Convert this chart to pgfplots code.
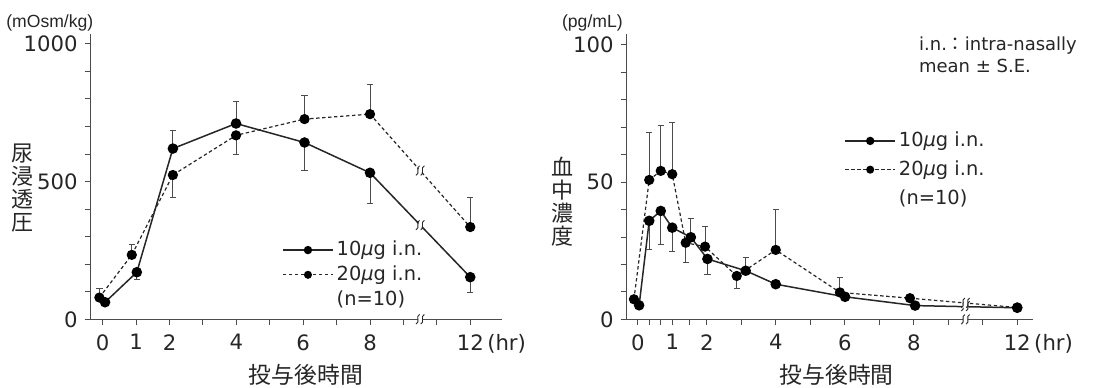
\documentclass[border=0pt]{standalone}
\usepackage{pgfplots}
\pgfplotsset{compat=1.18}
\usepackage{pgfplotstable}
\usepackage{fontspec}
\setmainfont{DejaVu Sans}
\newfontfamily\jp{Noto Sans CJK JP}
\newfontfamily\lib{Liberation Sans}
\newcommand\mug{{\itshape μ}g}

\pgfplotstableread{
x y ep em
0.07 62 0 0
1.02 171 0 28
2.10 620 64 0
3.99 711 79 0
6.04 642 0 100
8.00 532 0 112
11.0 153 0 55
}\tenL
\pgfplotstableread{
x y ep em
-0.10 79 34 0
0.87 234 39 0
2.10 524 0 81
3.99 668 0 69
6.04 727 85 0
8.00 745 107 0
11.0 335 106 0
}\twentyL
\pgfplotstableread{
x y ep em
0.04 5.1 0 0
0.333 35.9 0 10.4
0.667 39.5 0 12.2
1.0 33.4 0 8.5
1.54 29.9 6.7 0
2.02 22.0 0 5.8
3.13 17.7 4.8 0
4.0 12.8 0 0
6.01 8.2 0 0
8.04 5.0 0 0
11.0 4.2 0 0
}\tenR
\pgfplotstableread{
x y ep em
-0.11 7.3 0 0
0.333 50.8 17.2 0
0.667 54.1 16.4 0
1.0 52.9 18.8 0
1.39 27.9 0 7.1
1.95 26.5 7.3 0
2.87 15.8 0 4.5
4.0 25.3 14.8 0
5.86 9.8 5.4 0
7.89 7.7 0 0
11.0 4.3 0 0
}\twentyR

\colorlet{ink}{black!85}
\newcommand\brk[2]{%
  \begin{scope}[shift={(axis cs:#1,#2)}]
    \fill[white] (-1.9pt,-2.4pt) -- (0.2pt,-2.4pt) -- (1.9pt,2.4pt) -- (-0.2pt,2.4pt) -- cycle;
    \draw[ink, line width=0.45pt] (-2.1pt,-2.4pt) .. controls (0.2pt,-1.6pt) and (-2.5pt,1.6pt) .. (-0.3pt,2.4pt);
    \draw[ink, line width=0.45pt] (0.3pt,-2.4pt) .. controls (2.5pt,-1.6pt) and (-0.2pt,1.6pt) .. (2.1pt,2.4pt);
  \end{scope}}

\pgfplotsset{
  myax/.style={
    scale only axis, height=142.65pt,
    axis lines=left, axis line style={-, black!70, line width=0.6pt},
    tick align=outside, major tick length=3pt,
    tick style={black!70, line width=0.5pt},
    clip=false, ymin=0,
    tick label style={font=\fontsize{10.6}{12}\selectfont, text=ink},
    xticklabel style={yshift=-1pt},
    legend cell align=left,
    legend style={draw=none, fill=none, font=\fontsize{9.7}{11.5}\selectfont, text=ink,
      inner sep=0pt, nodes={inner sep=1.5pt}},
    legend image code/.code={\draw[##1, mark size=1.7pt, mark repeat=2, mark phase=2]
      plot coordinates {(0pt,0pt) (12.5pt,0pt) (25pt,0pt)};},
  },
  s10/.style={ink, line width=0.75pt, mark=*, mark size=2.25pt, mark options={solid, fill=black, draw=black},
    error bars/.cd, y dir=both, y explicit, error bar style={solid, line width=0.45pt, black!70},
    error mark=-, error mark options={rotate=90, mark size=1.6pt, line width=0.45pt, black!70}},
  s20/.style={ink, line width=0.6pt, dash pattern=on 1.7pt off 1.3pt, mark=*, mark size=2.25pt,
    mark options={solid, fill=black, draw=black},
    error bars/.cd, y dir=both, y explicit, error bar style={solid, line width=0.45pt, black!70},
    error mark=-, error mark options={rotate=90, mark size=1.6pt, line width=0.45pt, black!70}},
}

\begin{document}
\begin{tikzpicture}
\path[use as bounding box] (-45.35pt,-33.85pt) rectangle (503.15pt,159.65pt);

% ---------------- left panel ----------------
\begin{axis}[myax, at={(0pt,0pt)}, anchor=south west,
  width=205.65pt, xmin=-0.36, xmax=11.95, ymax=1036,
  xtick={0,1,2,3,4,5,6,7,8,9,10,11},
  xticklabels={0,1,2,,4,,6,,8,,,12\rlap{\,(hr)}},
  ytick={0,100,...,1000},
  yticklabels={0,,,,,500,,,,,1000},
  legend style={at={(axis cs:5.36,296)}, anchor=north west, row sep=0.5pt},
]
\addplot[s10] table[x=x, y=y, y error plus=ep, y error minus=em] {\tenL};
\addlegendentry{10\mug\ i.n.}
\addplot[s20] table[x=x, y=y, y error plus=ep, y error minus=em] {\twentyL};
\addlegendentry{20\mug\ i.n.}
\addlegendimage{empty legend}
\addlegendentry{(n=10)}
\brk{9.5}{0}
\brk{9.5}{342}
\brk{9.5}{540}
\end{axis}

% ---------------- right panel ----------------
\begin{axis}[myax, at={(268pt,0pt)}, anchor=south west,
  width=203.2pt, xmin=-0.32, xmax=11.46, ymax=104,
  xtick={0,0.3333,0.6667,1,1.5,2,3,4,5,6,7,8,9,10,11},
  xticklabels={0,,,1,,2,,4,,6,,8,,,12\rlap{\,(hr)}},
  ytick={0,10,...,100},
  yticklabels={0,,,,,50,,,,,100},
  legend style={at={(axis cs:5.98,69.5)}, anchor=north west, row sep=2.5pt},
]
\addplot[s10] table[x=x, y=y, y error plus=ep, y error minus=em] {\tenR};
\addlegendentry{10\mug\ i.n.}
\addplot[s20] table[x=x, y=y, y error plus=ep, y error minus=em] {\twentyR};
\addlegendentry{20\mug\ i.n.}
\addlegendimage{empty legend}
\addlegendentry{(n=10)}
\brk{9.5}{0}
\brk{9.5}{4.8}
\brk{9.5}{6.0}
\end{axis}

% ---------------- texts ----------------
\node[anchor=east, inner sep=0pt, text=ink, font=\lib\fontsize{8.8}{10}\selectfont] at (1.5pt,148.4pt) {(mOsm/kg)};
\node[anchor=east, inner sep=0pt, text=ink, font=\lib\fontsize{8.8}{10}\selectfont] at (266.2pt,148.4pt) {(pg/mL)};
\node[align=center, inner sep=0pt, text=ink, font=\jp\fontsize{11}{11.4}\selectfont] at (-34.1pt,65.6pt) {尿\\浸\\透\\圧};
\node[align=center, inner sep=0pt, text=ink, font=\jp\fontsize{11}{11.4}\selectfont] at (235.9pt,58.8pt) {血\\中\\濃\\度};
\node[inner sep=0pt, text=ink, font=\jp\fontsize{11.4}{12}\selectfont] at (107.6pt,-27.8pt) {投与後時間};
\node[inner sep=0pt, text=ink, font=\jp\fontsize{11.4}{12}\selectfont] at (373pt,-27.8pt) {投与後時間};
\node[anchor=base west, inner sep=0pt, text=ink, font=\fontsize{9}{11}\selectfont] at (414pt,134.3pt) {i.n.{\jp ：}intra-nasally};
\node[anchor=base west, inner sep=0pt, text=ink, font=\fontsize{9}{11}\selectfont] at (414pt,123.3pt) {mean ± S.E.};
\end{tikzpicture}
\end{document}
